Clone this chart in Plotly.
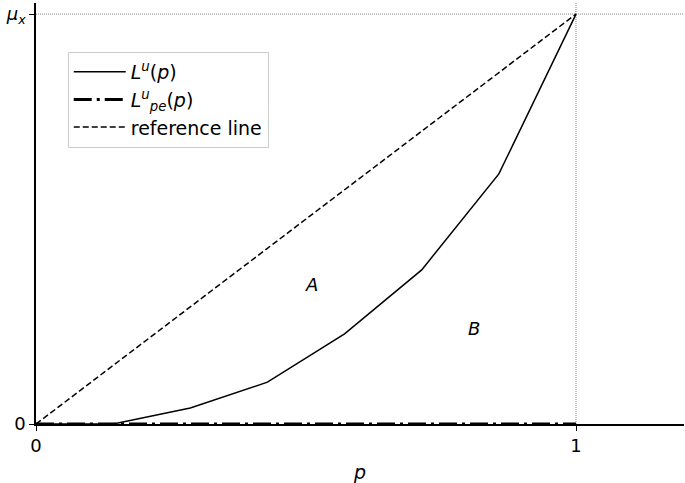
import plotly.graph_objects as go

# Data
p_vals = [0, 1/7, 2/7, 3/7, 4/7, 5/7, 6/7, 1]
L_u = [0, 0, 0.039, 0.102, 0.22, 0.376, 0.61, 1.0]
p_pe = [0, 1]
L_pe = [0, 0]
ref_x = [0, 1]
ref_y = [0, 1]
mu_x = 1.0
x_tick_vals = [0, 1]
x_tick_text = ["0", "1"]
y_tick_vals = [0, mu_x]
y_tick_text = ["0", "<i>μ<sub>x</sub></i>"]
labels = [("A", 0.511, 0.341), ("B", 0.811, 0.234)]

FONT = "DejaVu Sans"
fig = go.Figure()

# dotted guide lines
fig.add_trace(go.Scatter(x=[0, 1.2], y=[mu_x, mu_x], mode="lines",
                         line=dict(color="#888888", width=1, dash="1px,1px"),
                         showlegend=False, hoverinfo="skip"))
fig.add_trace(go.Scatter(x=[1, 1], y=[0, 1.027], mode="lines",
                         line=dict(color="#888888", width=1, dash="1px,1px"),
                         showlegend=False, hoverinfo="skip"))

fig.add_trace(go.Scatter(x=p_vals, y=L_u, mode="lines",
                         name="<i>L<sup>u</sup></i>(<i>p</i>)",
                         line=dict(color="black", width=1.5)))
fig.add_trace(go.Scatter(x=p_pe, y=L_pe, mode="lines",
                         name="<i>L</i><sup><i>u</i></sup><sub><i>pe</i></sub>(<i>p</i>)",
                         line=dict(color="black", width=3, dash="18px,5px,3px,5px")))
fig.add_trace(go.Scatter(x=ref_x, y=ref_y, mode="lines",
                         name="reference line",
                         line=dict(color="black", width=1.5, dash="6px,3px")))

for t, x, y in labels:
    fig.add_annotation(x=x, y=y, text=f"<i>{t}</i>", showarrow=False,
                       font=dict(family=FONT, size=18, color="black"))

fig.update_layout(
    width=685, height=483,
    margin=dict(l=36, r=1, t=3, b=59),
    plot_bgcolor="white", paper_bgcolor="white",
    font=dict(family=FONT, size=18, color="black"),
    legend=dict(x=0.049, y=0.884, xanchor="left", yanchor="top",
                bgcolor="white", bordercolor="#cccccc", borderwidth=1,
                itemwidth=52,
                font=dict(family=FONT, size=19), tracegroupgap=0),
    xaxis=dict(range=[0, 1.2], showgrid=False, zeroline=False, automargin=False,
               showline=True, linecolor="black", linewidth=1.5,
               ticks="outside", ticklen=5, tickwidth=1, tickcolor="black",
               tickvals=x_tick_vals, ticktext=x_tick_text,
               tickfont=dict(family=FONT, size=18),
               title=dict(text="<i>p</i>", font=dict(family=FONT, size=19), standoff=10)),
    yaxis=dict(range=[0, 1.027], showgrid=False, zeroline=False, automargin=False,
               showline=True, linecolor="black", linewidth=1.5,
               ticks="outside", ticklen=5, tickwidth=1, tickcolor="black",
               tickvals=y_tick_vals, ticktext=y_tick_text,
               tickfont=dict(family=FONT, size=18)),
)

fig.write_html("out.html", config={"displayModeBar": False},
               post_script="document.body.style.margin='0px';")
